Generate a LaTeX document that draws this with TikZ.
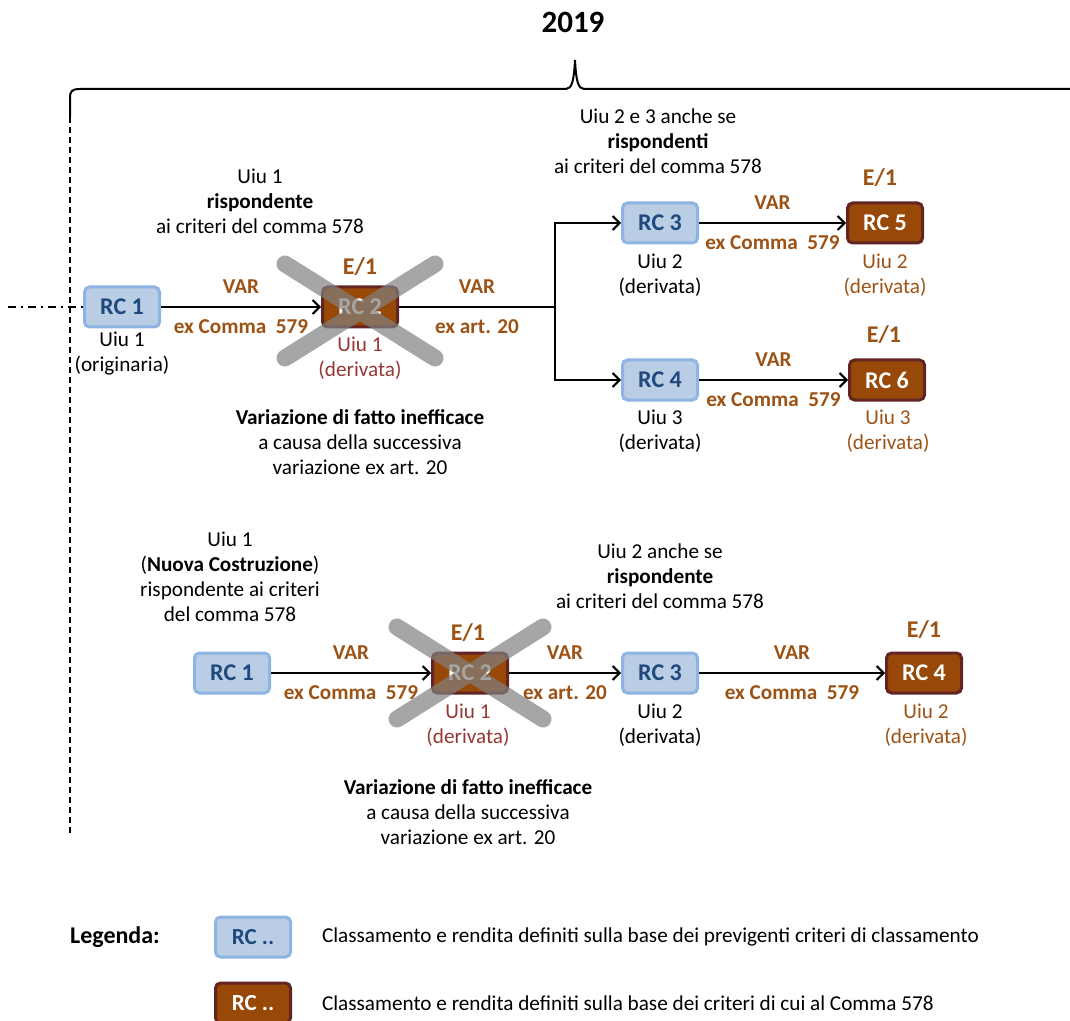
\documentclass[tikz,border=0pt]{standalone}
\usepackage{fontspec}
\setmainfont{Carlito}
\usepackage{tikz}
\usetikzlibrary{arrows.meta, positioning}

\definecolor{celeste}{HTML}{B9CDE5}
\definecolor{bordoceleste}{HTML}{8EB4E3}
\definecolor{bluscuro}{HTML}{1F497D}
\definecolor{marrone}{HTML}{984807}
\definecolor{bordomarrone}{HTML}{632523}
\definecolor{arancio}{HTML}{9C5214}
\definecolor{rossiccio}{HTML}{953735}

\tikzset{
    testo/.style={align=center, font=\fontsize{10.6}{12.5}\selectfont},
    prev/.style={draw=bordoceleste, fill=celeste, text=bluscuro, line width=1.5pt, rounded corners=2.5pt,
        minimum width=37.5pt, minimum height=20pt, font=\fontsize{12}{13}\selectfont\bfseries},
    nuovo/.style={prev, draw=bordomarrone, fill=marrone, text=white},
    etic/.style={text=arancio, font=\fontsize{10.6}{12}\selectfont\bfseries},
    enne/.style={text=arancio, font=\fontsize{12}{13}\selectfont\bfseries},
    freccia/.style={-{Straight Barb[length=3.5pt,width=7pt]}, line width=1pt},
    croce/.style={line width=8.5pt, color=gray, opacity=0.7, line cap=round},
}

\begin{document}
\begin{tikzpicture}[x=0.5pt, y=-0.5pt]
    \useasboundingbox (0,0) rectangle (1070,1021);
    \node[font=\fontsize{15.5}{17}\selectfont\bfseries] (anno) at (573,22) {2019};
    \draw[line width=1pt] (70,117) -- (70,98) .. controls (70,91) and (72,89) .. (80,89) -- (566,89)
        .. controls (572,89) and (574,80) .. (575,60) .. controls (576,80) and (578,89) .. (584,89) -- (1070,89);
    \draw[dash pattern=on 3pt off 2pt, line width=0.6pt] (70,117) -- (70,835);

    % primo caso
    \node[prev] (a1) at (122,307) {RC 1};
    \node[nuovo] (a2) at (360,307) {RC 2};
    \node[prev] (a3) at (660,223) {RC 3};
    \node[prev] (a4) at (660,380) {RC 4};
    \node[nuovo] (a5) at (885,223) {RC 5};
    \node[nuovo] (a6) at (887,380) {RC 6};
    \coordinate (inizio) at (8,307);
    \coordinate (snodo) at (555,307);
    \draw[dash pattern=on 4pt off 2.5pt on 1pt off 2.5pt, line width=0.6pt] (inizio) -- (a1.west);
    \draw[freccia] (a1) -- node[midway,above=3pt,etic] (v1) {VAR} node[midway,below=2.5pt,etic] (c1) {ex Comma~ 579} (a2);
    \draw[line width=1pt] (a2) -- node[midway,above=3pt,etic] (v2) {VAR} node[midway,below=2.5pt,etic] (c2) {ex art. 20} (snodo);
    \draw[freccia] (snodo) |- (a3.west);
    \draw[freccia] (snodo) |- (a4.west);
    \draw[freccia] (a3) -- node[midway,above=3pt,etic] (v3) {VAR} node[midway,below=2.5pt,etic] (c3) {ex Comma~ 579} (a5);
    \draw[freccia] (a4) -- node[midway,above=3pt,etic] (v4) {VAR} node[midway,below=2.5pt,etic] (c4) {ex Comma~ 579} (a6);
    \node[enne] (e2) at (360,267) {E/1};
    \node[enne] (e5) at (880,178) {E/1};
    \node[enne] (e6) at (884,335) {E/1};
    \node[testo] (u1) at (122,354) {Uiu 1\\(originaria)};
    \node[testo, text=rossiccio] (u2) at (360,358) {Uiu 1\\(derivata)};
    \node[testo] (u3) at (660,275) {Uiu 2\\(derivata)};
    \node[testo] (u4) at (660,431) {Uiu 3\\(derivata)};
    \node[testo, text=arancio] (u5) at (885,275) {Uiu 2\\(derivata)};
    \node[testo, text=arancio] (u6) at (888,431) {Uiu 3\\(derivata)};
    \node[testo] (nota1) at (260,201) {Uiu 1\\\textbf{rispondente}\\ai criteri del comma 578};
    \node[testo] (nota2) at (658,141) {Uiu 2 e 3 anche se\\\textbf{rispondenti}\\ai criteri del comma 578};
    \node[testo] (nota3) at (360,442) {\textbf{Variazione di fatto inefficace}\\a causa della successiva\\variazione ex art. 20};
    \draw[croce] (285,264) -- (435,358) (435,264) -- (285,358);

    % secondo caso
    \node[prev] (b1) at (232,673) {RC 1};
    \node[nuovo] (b2) at (470,673) {RC 2};
    \node[prev] (b3) at (660,673) {RC 3};
    \node[nuovo] (b4) at (924,673) {RC 4};
    \draw[freccia] (b1) -- node[midway,above=3pt,etic] (w1) {VAR} node[midway,below=2.5pt,etic] (d1) {ex Comma~ 579} (b2);
    \draw[freccia] (b2) -- node[midway,above=3pt,etic] (w2) {VAR} node[midway,below=2.5pt,etic] (d2) {ex art. 20} (b3);
    \draw[freccia] (b3) -- node[midway,above=3pt,etic] (w3) {VAR} node[midway,below=2.5pt,etic] (d3) {ex Comma~ 579} (b4);
    \node[enne] (f2) at (468,633) {E/1};
    \node[enne] (f4) at (924,630) {E/1};
    \node[testo, text=rossiccio] (r2) at (468,725) {Uiu 1\\(derivata)};
    \node[testo] (r3) at (660,725) {Uiu 2\\(derivata)};
    \node[testo, text=arancio] (r4) at (926,725) {Uiu 2\\(derivata)};
    \node[testo] (nota4) at (230,577) {Uiu 1\\(\textbf{Nuova Costruzione})\\rispondente ai criteri\\del comma 578};
    \node[testo] (nota5) at (660,576) {Uiu 2 anche se\\\textbf{rispondente}\\ai criteri del comma 578};
    \node[testo] (nota6) at (468,812) {\textbf{Variazione di fatto inefficace}\\a causa della successiva\\variazione ex art. 20};
    \draw[croce] (397,627) -- (543,719) (543,627) -- (397,719);

    % legenda
    \node[testo, font=\fontsize{12}{13}\selectfont\bfseries] (leg) at (115,937) {Legenda:};
    \node[prev, font=\fontsize{11.5}{12.5}\selectfont\bfseries] (l1) at (253,937) {RC ..};
    \node[nuovo, font=\fontsize{11.5}{12.5}\selectfont\bfseries] (l2) at (253,1003) {RC ..};
    \node[testo, anchor=west] (t1) at (315,937) {Classamento e rendita definiti sulla base dei previgenti criteri di classamento};
    \node[testo, anchor=west] (t2) at (315,1003) {Classamento e rendita definiti sulla base dei criteri di cui al Comma 578};
\end{tikzpicture}
\end{document}
